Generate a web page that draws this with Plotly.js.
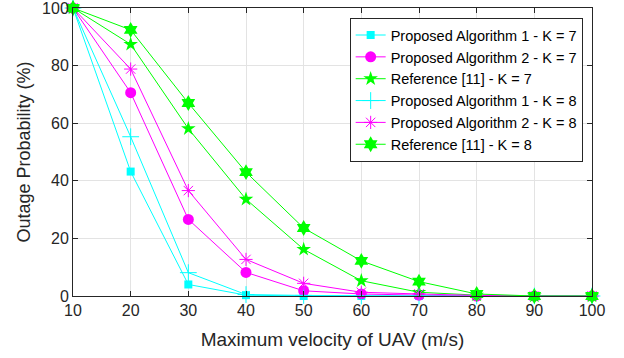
<!DOCTYPE html>
<html><head><meta charset="utf-8">
<script src="https://cdn.plot.ly/plotly-3.0.1.min.js"></script>
<style>html,body{margin:0;padding:0;background:#fff}#chart{width:624px;height:358px}</style>
</head><body><div id="chart"></div>
<script>
const velocity = [10, 20, 30, 40, 50, 60, 70, 80, 90, 100];
const alg1K7 = [100, 43.2, 4.0, 0.3, 0, 0, 0, 0, 0, 0];
const alg2K7 = [100, 70.6, 26.6, 8.2, 1.8, 0.7, 0.3, 0, 0, 0];
const refK7  = [100, 87.4, 58.1, 33.6, 16.2, 5.3, 1.3, 0.3, 0, 0];
const alg1K8 = [100, 55.3, 8.1, 0.5, 0.2, 0, 0, 0, 0, 0];
const alg2K8 = [100, 78.8, 36.6, 12.7, 4.4, 1.3, 0.7, 0.2, 0, 0];
const refK8  = [100, 92.4, 67.0, 43.0, 23.6, 12.2, 5.0, 0.7, 0, 0];
const names = ["Proposed Algorithm 1 - K = 7","Proposed Algorithm 2 - K = 7","Reference [11] - K = 7",
               "Proposed Algorithm 1 - K = 8","Proposed Algorithm 2 - K = 8","Reference [11] - K = 8"];
const xTicks = [10,20,30,40,50,60,70,80,90,100];
const yTicks = [0,20,40,60,80,100];

const cyan = '#00FFFF', mag = '#FF00FF', grn = '#00FF00';
const FONT = 'Liberation Sans, Arial, sans-serif';
function tr(y, name, color, sym, size, lw) {
  return {x: velocity, y: y, name: name, type: 'scatter', mode: 'lines+markers', cliponaxis: false,
    line: {color: color, width: 1},
    marker: {symbol: sym, size: size, color: color, line: {color: color, width: lw}}};
}
const data = [
  tr(alg1K7, names[0], cyan, 'square', 8, 0),
  tr(alg2K7, names[1], mag, 'circle', 11, 0),
  tr(refK7, names[2], grn, 'star', 11, 0),
  tr(alg1K8, names[3], cyan, 'cross-thin-open', 12, 1),
  tr(alg2K8, names[4], mag, 'asterisk-open', 11, 1),
  tr(refK8, names[5], grn, 'hexagram', 12, 0)
];
const axisCommon = {
  showline: true, mirror: 'ticks', linecolor: '#262626', linewidth: 1,
  ticks: 'inside', ticklen: 5, tickcolor: '#262626',
  showgrid: true, gridcolor: '#e3e3e3', gridwidth: 1, zeroline: false,
  ticklabeloverflow: 'allow',
  tickfont: {family: FONT, size: 16, color: '#262626'}
};
const layout = {
  width: 624, height: 358,
  margin: {l: 73, r: 32, t: 8, b: 62},
  paper_bgcolor: '#fff', plot_bgcolor: '#fff',
  showlegend: true,
  xaxis: Object.assign({}, axisCommon, {range: [10, 100], tickvals: xTicks,
    title: {text: 'Maximum velocity of UAV (m/s)', font: {family: FONT, size: 19, color: '#262626'}, standoff: 14}}),
  yaxis: Object.assign({}, axisCommon, {range: [0, 100], tickvals: yTicks,
    title: {text: 'Outage Probability (%)', font: {family: FONT, size: 18, color: '#262626'}, standoff: 6}}),
  legend: {x: 0.982, xanchor: 'right', y: 0.965, yanchor: 'top',
    bgcolor: '#fff', bordercolor: '#262626', borderwidth: 1,
    font: {family: FONT, size: 14.5, color: '#000'},
    tracegroupgap: 0, itemwidth: 30}
};
Plotly.newPlot('chart', data, layout, {displayModeBar: false, staticPlot: true});
</script></body></html>
